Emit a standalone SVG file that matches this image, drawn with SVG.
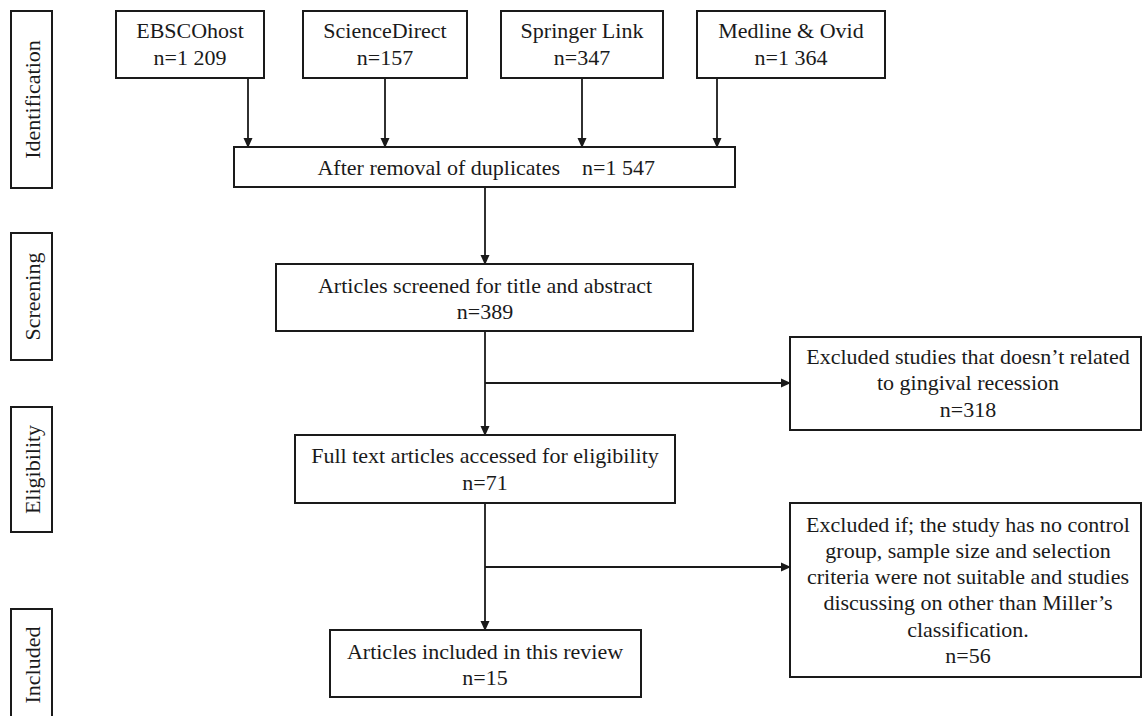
<svg xmlns="http://www.w3.org/2000/svg" width="1142" height="716" viewBox="0 0 1142 716">
<style>
  .box { fill: #fff; stroke: #1a1a1a; stroke-width: 2; }
  .t { font-family: "Liberation Serif", "Times New Roman", serif; font-size: 22px; fill: #1a1a1a; text-anchor: middle; }
  .c { stroke: #1a1a1a; stroke-width: 1.8; fill: none; }
</style>
<defs>
  <marker id="ah" markerWidth="10" markerHeight="10" refX="9" refY="5" orient="auto" markerUnits="userSpaceOnUse">
    <path d="M0,0.5 L10,5 L0,9.5 Z" fill="#1a1a1a"/>
  </marker>
</defs>
<rect width="1142" height="716" fill="#fff"/>

<g id="phase-identification">
  <rect class="box" x="11" y="11" width="41" height="177"/>
  <text class="t" transform="translate(40,99.5) rotate(-90)">Identification</text>
</g>
<g id="phase-screening">
  <rect class="box" x="11" y="233" width="41" height="127"/>
  <text class="t" transform="translate(40,296.5) rotate(-90)">Screening</text>
</g>
<g id="phase-eligibility">
  <rect class="box" x="11" y="407" width="41" height="125"/>
  <text class="t" transform="translate(40,469.5) rotate(-90)">Eligibility</text>
</g>
<g id="phase-included">
  <rect class="box" x="11" y="609" width="41" height="120"/>
  <text class="t" transform="translate(40,665) rotate(-90)">Included</text>
</g>

<g id="connectors">
  <line class="c" x1="248" y1="78" x2="248" y2="147" marker-end="url(#ah)"/>
  <line class="c" x1="385" y1="78" x2="385" y2="147" marker-end="url(#ah)"/>
  <line class="c" x1="582" y1="78" x2="582" y2="147" marker-end="url(#ah)"/>
  <line class="c" x1="717" y1="78" x2="717" y2="147" marker-end="url(#ah)"/>
  <line class="c" x1="485" y1="187" x2="485" y2="264" marker-end="url(#ah)"/>
  <line class="c" x1="485" y1="331" x2="485" y2="435" marker-end="url(#ah)"/>
  <line class="c" x1="485" y1="383" x2="790" y2="383" marker-end="url(#ah)"/>
  <line class="c" x1="485" y1="503" x2="485" y2="630" marker-end="url(#ah)"/>
  <line class="c" x1="485" y1="567" x2="790" y2="567" marker-end="url(#ah)"/>
</g>

<g id="ebscohost">
  <rect class="box" x="116" y="11" width="148" height="67"/>
  <text class="t" x="190" y="38">EBSCOhost</text>
  <text class="t" x="190" y="65">n=1 209</text>
</g>
<g id="sciencedirect">
  <rect class="box" x="303" y="11" width="164" height="67"/>
  <text class="t" x="385" y="38">ScienceDirect</text>
  <text class="t" x="385" y="65">n=157</text>
</g>
<g id="springer">
  <rect class="box" x="501" y="11" width="162" height="67"/>
  <text class="t" x="582" y="38">Springer Link</text>
  <text class="t" x="582" y="65">n=347</text>
</g>
<g id="medline">
  <rect class="box" x="697" y="11" width="188" height="67"/>
  <text class="t" x="791" y="38">Medline &amp; Ovid</text>
  <text class="t" x="791" y="65">n=1 364</text>
</g>

<g id="duplicates">
  <rect class="box" x="234" y="147" width="501" height="40"/>
  <text class="t" x="560" y="175" style="text-anchor:end">After removal of duplicates</text>
  <text class="t" x="582" y="175" style="text-anchor:start">n=1 547</text>
</g>

<g id="screened">
  <rect class="box" x="276" y="264" width="417" height="67"/>
  <text class="t" x="485" y="293">Articles screened for title and abstract</text>
  <text class="t" x="485" y="319">n=389</text>
</g>

<g id="excluded-1">
  <rect class="box" x="790" y="337" width="351" height="93"/>
  <text class="t" x="968" y="364">Excluded studies that doesn’t related</text>
  <text class="t" x="968" y="390">to gingival recession</text>
  <text class="t" x="968" y="417">n=318</text>
</g>

<g id="fulltext">
  <rect class="box" x="295" y="435" width="380" height="68"/>
  <text class="t" x="485" y="463">Full text articles accessed for eligibility</text>
  <text class="t" x="485" y="490">n=71</text>
</g>

<g id="excluded-2">
  <rect class="box" x="790" y="503" width="351" height="174"/>
  <text class="t" x="968" y="532">Excluded if; the study has no control</text>
  <text class="t" x="968" y="558">group, sample size and selection</text>
  <text class="t" x="968" y="584">criteria were not suitable and studies</text>
  <text class="t" x="968" y="610">discussing on other than Miller’s</text>
  <text class="t" x="968" y="637">classification.</text>
  <text class="t" x="968" y="663">n=56</text>
</g>

<g id="included">
  <rect class="box" x="330" y="630" width="311" height="67"/>
  <text class="t" x="485" y="659">Articles included in this review</text>
  <text class="t" x="485" y="685">n=15</text>
</g>
</svg>
